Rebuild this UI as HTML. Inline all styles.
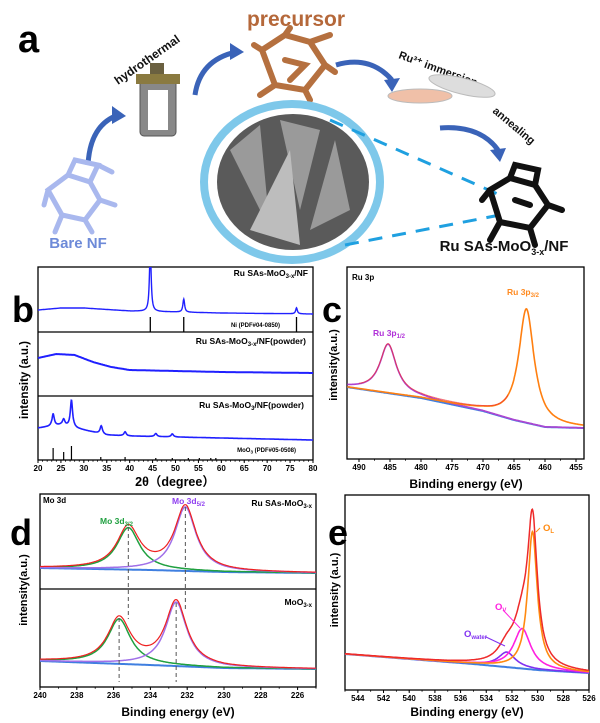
<!DOCTYPE html>
<html><head><meta charset="utf-8"><style>
html,body{margin:0;padding:0;background:#fff;}
svg{display:block;font-family:"Liberation Sans",sans-serif;}
text{font-weight:bold;}
</style></head><body>
<svg id="fig" width="600" height="723" viewBox="0 0 600 723" xmlns="http://www.w3.org/2000/svg">
<g>
<text x="18" y="52" font-size="38">a</text>
<text x="296" y="26" font-size="21" fill="#b5683a" text-anchor="middle">precursor</text>
<text transform="translate(118,85) rotate(-35)" font-size="12" fill="#111">hydrothermal</text>
<text transform="translate(398,58) rotate(20)" font-size="11" fill="#111">Ru³⁺ immersion</text>
<text transform="translate(492,112) rotate(40)" font-size="11" fill="#111">annealing</text>
<g fill="none" stroke="#3a63b8" stroke-width="5">
<path d="M88 165 Q90 125 118 115"/><path d="M195 95 Q200 60 236 52"/><path d="M336 65 Q370 55 392 80"/><path d="M440 128 Q480 125 498 150"/>
</g>
<g fill="#3a63b8">
<polygon points="112,106 126,116 112,124"/><polygon points="230,43 244,52 230,60"/><polygon points="384,80 400,78 392,92"/><polygon points="490,150 506,148 500,162"/>
</g>
<g>
<rect x="140" y="78" width="36" height="58" rx="4" fill="#888" stroke="#555"/>
<rect x="136" y="74" width="44" height="10" fill="#8a7a40"/>
<rect x="148" y="90" width="20" height="40" fill="#fff"/>
<rect x="150" y="63" width="14" height="11" fill="#6a6040"/>
</g>
<g stroke="#a9b8ee" stroke-width="5" fill="none" stroke-linecap="round">
<path d="M48 190 L68 175 L90 182 L100 200 L85 220 L62 215 Z M68 175 L75 160 L98 165 L90 182 M100 200 L115 205 M62 215 L55 232 M85 220 L92 232 M48 190 L44 205 M98 165 L112 172"/>
</g>
<text x="78" y="248" font-size="15" fill="#6d8ad8" text-anchor="middle">Bare NF</text>
<g stroke="#b5703f" stroke-width="6" fill="none" stroke-linecap="round">
<path d="M262 50 L285 35 L310 42 L325 65 L305 90 L275 85 Z M285 35 L290 28 M310 42 L330 35 M325 65 L335 72 M305 90 L310 100 M275 85 L260 95 M262 50 L254 45 M285 60 L305 65 L290 80"/>
</g>
<g>
<ellipse cx="420" cy="96" rx="32" ry="7" fill="#f0c0a8" stroke="#bbb"/>
<ellipse cx="462" cy="86" rx="34" ry="8" fill="#ddd" stroke="#bbb" transform="rotate(14 462 86)"/>
</g>
<g>
<ellipse cx="292" cy="182" rx="88" ry="78" fill="none" stroke="#7ec8ea" stroke-width="8"/>
<ellipse cx="293" cy="182" rx="76" ry="68" fill="#5a5a5a"/>
<path d="M230 150 L260 125 L270 230 Z M280 120 L300 210 L320 130 Z M310 230 L335 140 L350 210 Z" fill="#9a9a9a"/>
<path d="M250 230 L290 150 L300 245 Z" fill="#bdbdbd"/>
</g>
<g stroke="#1fa0e0" stroke-width="3" stroke-dasharray="14 10">
<line x1="330" y1="120" x2="500" y2="195"/><line x1="345" y1="245" x2="500" y2="215"/>
</g>
<g stroke="#111" stroke-width="6" fill="none" stroke-linecap="round">
<path d="M490 190 L510 178 L535 185 L548 205 L530 228 L500 222 Z M510 178 L515 165 L538 170 L535 185 M548 205 L562 210 M530 228 L535 245 M500 222 L490 240 M490 190 L482 200 M515 200 L530 205"/>
</g>
<text x="504" y="251" font-size="15" fill="#111" text-anchor="middle">Ru SAs-MoO<tspan font-size="9" dy="4">3-x</tspan><tspan dy="-4">/NF</tspan></text>
</g>
<g id="charts"></g>
</svg>
<script>
const xrdTicks = [20,25,30,35,40,45,50,55,60,65,70,75,80];
const niPeakPos = [44.5, 51.8, 76.4];
const niPeakAmp = [62, 13, 6];
const niBaseX = [20, 25, 30, 40, 50, 60, 80];
const niBaseY = [22, 24, 24, 21, 20, 19, 18];
const niRefPos = [44.5, 51.8, 76.4];
const niRefH = [15, 15, 15];
const powderXBaseX = [20, 24, 28, 32, 36, 40, 50, 60, 80];
const powderXBaseY = [38, 42, 41, 34, 29, 26, 25, 24, 23];
const moo3BaseX = [20, 25, 30, 35, 40, 50, 80];
const moo3BaseY = [32, 35, 30, 25, 24, 23, 20];
const moo3PeakPos = [23.3, 25.6, 27.3, 33.8, 39.0, 45.7, 49.3];
const moo3PeakAmp = [12, 6, 27, 8, 4, 3, 3];
const moo3RefPos = [23.3, 25.6, 27.3, 33.7, 39.0, 45.7, 49.3, 52.8, 55.2, 57.7, 58.8];
const moo3RefH = [12, 8, 14, 3, 3, 2, 2, 2, 2, 2, 2];
const ruTicks = [490,485,480,475,470,465,460,455];
const ruBaseE = [492, 480, 470, 465, 460, 454];
const ruBaseI = [72, 61, 48, 39, 32, 31];
const ruPeakE = [485.3, 463.0];
const ruPeakAmp = [49, 114];
const ruPeakW = [1.6, 1.5];
const moTicks = [240,238,236,234,232,230,228,226];
const moUpBaseE = [240, 234, 230, 225];
const moUpBaseI = [21, 19, 17, 16];
const moUpPeakE = [235.2, 232.1];
const moUpPeakAmp = [42, 64];
const moLoBaseE = [240, 234, 230, 225];
const moLoBaseI = [26, 22, 19, 18];
const moLoPeakE = [235.7, 232.6];
const moLoPeakAmp = [45, 64];
const moPeakW = [0.75, 0.7];
const oTicks = [544,542,540,538,536,534,532,530,528,526];
const oBaseE = [545, 535, 530, 526];
const oBaseI = [36, 26, 20, 17];
const oPeakE = [530.4, 531.2, 532.4];
const oPeakAmp = [138, 40, 15];
const oPeakW = [0.45, 0.8, 0.8];

const NS = "http://www.w3.org/2000/svg";
const root = document.getElementById('charts');
function mk(tag, attrs, parent){const e=document.createElementNS(NS,tag);for(const k in attrs)e.setAttribute(k,attrs[k]);(parent||root).appendChild(e);return e;}
function lin(d0,d1,r0,r1){return v=>r0+(v-d0)*(r1-r0)/(d1-d0);}
function interp(xs,ys,x){
  const asc = xs[0] < xs[xs.length-1];
  for(let i=0;i<xs.length-1;i++){const a=xs[i],b=xs[i+1];if(asc?(x>=a&&x<=b):(x<=a&&x>=b)) return ys[i]+(ys[i+1]-ys[i])*(x-a)/(b-a);}
  return (asc?(x<xs[0]):(x>xs[0]))?ys[0]:ys[ys.length-1];
}
function lor(x,c,a,w){return a/(1+((x-c)/w)**2);}
function pathFrom(x0,x1,n,fx,fy,f){let d='';for(let i=0;i<=n;i++){const x=x0+(x1-x0)*i/n;d+=(i?'L':'M')+fx(x).toFixed(1)+' '+fy(f(x)).toFixed(1);}return d;}
function txt(x,y,s,size,attrs,parent){const t=mk('text',Object.assign({x:x,y:y,'font-size':size},attrs||{}),parent);t.textContent=s;return t;}
function axisX(g,ticks,sx,yb,minorStep,x0,x1){
  ticks.forEach(v=>{mk('line',{x1:sx(v),x2:sx(v),y1:yb,y2:yb+3,stroke:'#000','stroke-width':1},g);
    const t=txt(sx(v),yb+11,String(v),8,{'text-anchor':'middle'},g);
    
    });
  const lo=Math.min(x0,x1),hi=Math.max(x0,x1);
  for(let v=Math.ceil(lo/minorStep)*minorStep;v<=hi;v+=minorStep){mk('line',{x1:sx(v),x2:sx(v),y1:yb,y2:yb+1.8,stroke:'#000','stroke-width':0.8},g);}
}

(function(){
  const g=mk('g',{});
  
  
  const L=38,R=313,T=267,B=460,d1=332,d2=396;
  const sx=lin(20,80,L,R);
  mk('rect',{x:L,y:T,width:R-L,height:B-T,fill:'none',stroke:'#000','stroke-width':1.3},g);
  mk('line',{x1:L,x2:R,y1:d1,y2:d1,stroke:'#000','stroke-width':1.2},g);
  mk('line',{x1:L,x2:R,y1:d2,y2:d2,stroke:'#000','stroke-width':1.2},g);
  const cp=mk('clipPath',{id:'clipb'},g);mk('rect',{x:L,y:T,width:R-L,height:B-T},cp);
  const lab=txt(12,322,'b',36,{},g);
  
  
  const p1=mk('path',{d:pathFrom(20,80,900,sx,v=>d1-v,x=>interp(niBaseX,niBaseY,x)+niPeakPos.reduce((s,c,i)=>s+lor(x,c,niPeakAmp[i],0.22),0)),fill:'none',stroke:'#2020ff','stroke-width':1.4,'clip-path':'url(#clipb)'},g);
  
  
  niRefPos.forEach((p,i)=>{const l=mk('line',{x1:sx(p),x2:sx(p),y1:d1,y2:d1-niRefH[i],stroke:'#000','stroke-width':1.3},g);
    
    });
  const t1=mk('text',{x:308,y:276,'font-size':8.5,'text-anchor':'end'},g);t1.innerHTML='Ru SAs-MoO<tspan font-size="6" dy="2">3-x</tspan><tspan dy="-2">/NF</tspan>';
  
  
  const t2=txt(280,327,'Ni (PDF#04-0850)',6,{'text-anchor':'end'},g);
  
  
  const p2=mk('path',{d:pathFrom(20,80,300,sx,v=>d2-v,x=>interp(powderXBaseX,powderXBaseY,x)),fill:'none',stroke:'#2020ff','stroke-width':2},g);
  
  
  const t3=mk('text',{x:306,y:344,'font-size':8.5,'text-anchor':'end'},g);t3.innerHTML='Ru SAs-MoO<tspan font-size="6" dy="2">3-x</tspan><tspan dy="-2">/NF(powder)</tspan>';
  
  
  const p3=mk('path',{d:pathFrom(20,80,900,sx,v=>B-v,x=>interp(moo3BaseX,moo3BaseY,x)+moo3PeakPos.reduce((s,c,i)=>s+lor(x,c,moo3PeakAmp[i],0.3),0)),fill:'none',stroke:'#2020ff','stroke-width':1.6},g);
  
  
  moo3RefPos.forEach((p,i)=>{const l=mk('line',{x1:sx(p),x2:sx(p),y1:B,y2:B-moo3RefH[i],stroke:'#000','stroke-width':1.2},g);
    
    });
  const t4=mk('text',{x:304,y:408,'font-size':8.5,'text-anchor':'end'},g);t4.innerHTML='Ru SAs-MoO<tspan font-size="6" dy="2">3</tspan><tspan dy="-2">/NF(powder)</tspan>';
  
  
  const t5=mk('text',{x:296,y:452,'font-size':6,'text-anchor':'end'},g);t5.innerHTML='MoO<tspan font-size="4.5" dy="1.5">3</tspan><tspan dy="-1.5"> (PDF#05-0508)</tspan>';
  
  
  axisX(g,xrdTicks,sx,B,1,20,80);
  const xl=txt(175,486,'2θ（degree）',12.5,{'text-anchor':'middle','font-family':'"Liberation Sans","Noto Sans CJK SC",sans-serif'},g);
  
  
  const yl=txt(0,0,'intensity (a.u.)',11.5,{'text-anchor':'middle',transform:'translate(28,380) rotate(-90)'},g);
  
  
})();

(function(){
  const g=mk('g',{});
  
  
  const L=347,R=584,T=267,B=459;
  const sx=lin(490,455,359,576);
  const sy=v=>B-v;
  mk('rect',{x:L,y:T,width:R-L,height:B-T,fill:'none',stroke:'#000','stroke-width':1.3},g);
  const lab=txt(322,322,'c',36,{},g);
  
  
  const e0=491.9,e1=453.8;
  const base=x=>interp(ruBaseE,ruBaseI,x);
  const bp=mk('path',{d:pathFrom(e0,e1,300,sx,sy,base),fill:'none',stroke:'#3f7fe0','stroke-width':2},g);
  
  
  const c1=mk('path',{d:pathFrom(e0,e1,400,sx,sy,x=>base(x)+lor(x,ruPeakE[0],ruPeakAmp[0],ruPeakW[0])),fill:'none',stroke:'#b044d0','stroke-width':1.6},g);
  
  
  const c2=mk('path',{d:pathFrom(e0,e1,400,sx,sy,x=>base(x)+lor(x,ruPeakE[1],ruPeakAmp[1],ruPeakW[1])),fill:'none',stroke:'#ff7f10','stroke-width':1.6},g);
  
  
  const c3=mk('path',{d:pathFrom(490,466,200,sx,sy,x=>base(x)+lor(x,ruPeakE[0],ruPeakAmp[0],ruPeakW[0])+lor(x,ruPeakE[1],ruPeakAmp[1],ruPeakW[1])),fill:'none',stroke:'#ee3030','stroke-width':1,'stroke-opacity':0.7},g);
  
  
  const a=txt(352,280,'Ru 3p',8,{},g);
  
  
  const b1=mk('text',{x:373,y:336,'font-size':8.5,fill:'#b030d8'},g);b1.innerHTML='Ru 3p<tspan font-size="6" dy="2">1/2</tspan>';
  
  
  const b2=mk('text',{x:507,y:295,'font-size':8.5,fill:'#ff8a20'},g);b2.innerHTML='Ru 3p<tspan font-size="6" dy="2">3/2</tspan>';
  
  
  axisX(g,ruTicks,sx,B,2.5,e0,e1);
  const xl=txt(466,488,'Binding energy (eV)',12,{'text-anchor':'middle'},g);
  
  
  const yl=txt(0,0,'intensity(a.u.)',11,{'text-anchor':'middle',transform:'translate(337,365) rotate(-90)'},g);
  
  
})();

(function(){
  const g=mk('g',{});
  
  
  const L=40,R=316,T=494,M=589,B=687;
  const sx=lin(240,225,L,R);
  mk('rect',{x:L,y:T,width:R-L,height:B-T,fill:'none',stroke:'#000','stroke-width':1.3},g);
  mk('line',{x1:L,x2:R,y1:M,y2:M,stroke:'#000','stroke-width':1.2},g);
  const lab=txt(10,545,'d',36,{},g);
  
  
  function section(bot,bE,bI,pE,pA,tag){
    const sy=v=>bot-v;
    const base=x=>interp(bE,bI,x);
    const p0=mk('path',{d:pathFrom(240,225,200,sx,sy,base),fill:'none',stroke:'#3f7fe0','stroke-width':2},g);
    
    
    const pg=mk('path',{d:pathFrom(240,225,400,sx,sy,x=>base(x)+lor(x,pE[0],pA[0],moPeakW[0])),fill:'none',stroke:'#20a040','stroke-width':1.5},g);
    
    
    const pp=mk('path',{d:pathFrom(240,225,400,sx,sy,x=>base(x)+lor(x,pE[1],pA[1],moPeakW[1])),fill:'none',stroke:'#a070e8','stroke-width':1.5},g);
    
    
    const pr=mk('path',{d:pathFrom(240,225,400,sx,sy,x=>base(x)+lor(x,pE[0],pA[0],moPeakW[0])+lor(x,pE[1],pA[1],moPeakW[1])),fill:'none',stroke:'#ee2020','stroke-width':1.2},g);
    
    
  }
  section(M,moUpBaseE,moUpBaseI,moUpPeakE,moUpPeakAmp,'mo-ru-sas');
  section(B,moLoBaseE,moLoBaseI,moLoPeakE,moLoPeakAmp,'mo-moo3x');
  const dl=[[moUpPeakE[0],M-moUpPeakAmp[0]-20,M+30],[moUpPeakE[1],M-moUpPeakAmp[1]-18,M+20],[moLoPeakE[0],B-moLoPeakAmp[0]-24,B-5],[moLoPeakE[1],B-moLoPeakAmp[1]-20,B-5]];
  dl.forEach(r=>{const l=mk('line',{x1:sx(r[0]),x2:sx(r[0]),y1:r[1],y2:r[2],stroke:'#555','stroke-width':1,'stroke-dasharray':'4 3'},g);
    
    });
  const a=txt(43,503,'Mo 3d',8,{},g);
  
  
  const m1=mk('text',{x:100,y:524,'font-size':8.5,fill:'#20a040'},g);m1.innerHTML='Mo 3d<tspan font-size="6" dy="2">3/2</tspan>';
  
  
  const m2=mk('text',{x:172,y:504,'font-size':8.5,fill:'#9040f0'},g);m2.innerHTML='Mo 3d<tspan font-size="6" dy="2">5/2</tspan>';
  
  
  const s1=mk('text',{x:312,y:506,'font-size':8.5,'text-anchor':'end'},g);s1.innerHTML='Ru SAs-MoO<tspan font-size="6" dy="2">3-x</tspan>';
  
  
  const s2=mk('text',{x:312,y:605,'font-size':8.5,'text-anchor':'end'},g);s2.innerHTML='MoO<tspan font-size="6" dy="2">3-x</tspan>';
  
  
  axisX(g,moTicks,sx,B,1,240,225);
  const xl=txt(178,716,'Binding energy (eV)',12,{'text-anchor':'middle'},g);
  
  
  const yl=txt(0,0,'intensity(a.u.)',11,{'text-anchor':'middle',transform:'translate(27,590) rotate(-90)'},g);
  
  
})();

(function(){
  const g=mk('g',{});
  
  
  const L=345,R=589,T=495,B=690;
  const sx=lin(545,526,L,R);
  const sy=v=>B-v;
  mk('rect',{x:L,y:T,width:R-L,height:B-T,fill:'none',stroke:'#000','stroke-width':1.3},g);
  const lab=txt(328,545,'e',36,{},g);
  
  
  const base=x=>interp(oBaseE,oBaseI,x);
  const bp=mk('path',{d:pathFrom(545,526,200,sx,sy,base),fill:'none',stroke:'#3f7fe0','stroke-width':2},g);
  
  
  const cols=['#ff8a10','#ff20e0','#8030f0'];
  const names=['o-lattice-fit','o-vacancy-fit','o-water-fit'];
  [2,1,0].forEach(i=>{const p=mk('path',{d:pathFrom(545,526,500,sx,sy,x=>base(x)+lor(x,oPeakE[i],oPeakAmp[i],oPeakW[i])),fill:'none',stroke:cols[i],'stroke-width':1.6},g);
    
    });
  const env=mk('path',{d:pathFrom(545,526,500,sx,sy,x=>base(x)+oPeakE.reduce((s,c,i)=>s+lor(x,c,oPeakAmp[i],oPeakW[i]),0)),fill:'none',stroke:'#ee2a2a','stroke-width':1.5},g);
  
  
  const l1=mk('text',{x:543,y:531,'font-size':9.5,fill:'#ff8a10'},g);l1.innerHTML='O<tspan font-size="6" dy="2">L</tspan>';
  
  
  const l2=mk('text',{x:495,y:610,'font-size':9.5,fill:'#ff20e0'},g);l2.innerHTML='O<tspan font-size="6" dy="2">V</tspan>';
  
  
  const l3=mk('text',{x:464,y:637,'font-size':9.5,fill:'#8030f0'},g);l3.innerHTML='O<tspan font-size="6" dy="2">water</tspan>';
  
  
  mk('line',{x1:540,y1:528,x2:536,y2:532,stroke:'#ff8a10','stroke-width':1},g);
  mk('line',{x1:503,y1:610,x2:520,y2:628,stroke:'#ff20e0','stroke-width':1},g);
  mk('line',{x1:486,y1:637,x2:505,y2:646,stroke:'#8030f0','stroke-width':1},g);
  axisX(g,oTicks,sx,B,1,545,526);
  const xl=txt(467,716,'Binding energy (eV)',12,{'text-anchor':'middle'},g);
  
  
  const yl=txt(0,0,'intensity (a.u.)',11,{'text-anchor':'middle',transform:'translate(338,590) rotate(-90)'},g);
  
  
})();
</script>
</body></html>
